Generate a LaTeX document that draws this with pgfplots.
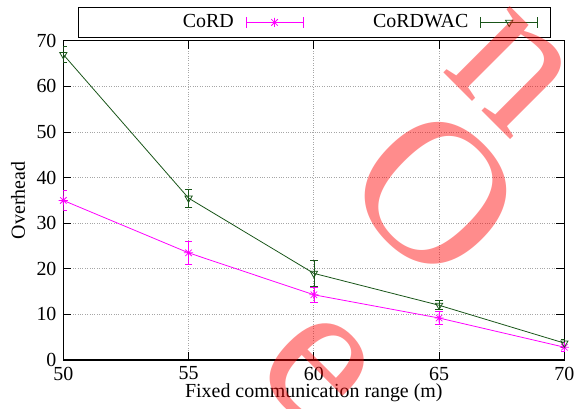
\documentclass[border=0pt]{standalone}
\usepackage{pgfplots}
\pgfplotsset{compat=1.18}
\usetikzlibrary{calc}
\usepackage{fontspec}
\setmainfont{Liberation Serif}

\definecolor{cordmag}{RGB}{255,0,255}
\definecolor{wacgreen}{RGB}{25,85,25}
\newcommand{\chartfont}{\fontsize{20}{23}\selectfont}

% gnuplot style star: + and x on top of each other
\pgfdeclareplotmark{plusx}{%
  \pgfpathmoveto{\pgfqpoint{-\pgfplotmarksize}{0pt}}%
  \pgfpathlineto{\pgfqpoint{\pgfplotmarksize}{0pt}}%
  \pgfpathmoveto{\pgfqpoint{0pt}{-\pgfplotmarksize}}%
  \pgfpathlineto{\pgfqpoint{0pt}{\pgfplotmarksize}}%
  \pgfpathmoveto{\pgfqpoint{-.7071\pgfplotmarksize}{-.7071\pgfplotmarksize}}%
  \pgfpathlineto{\pgfqpoint{.7071\pgfplotmarksize}{.7071\pgfplotmarksize}}%
  \pgfpathmoveto{\pgfqpoint{-.7071\pgfplotmarksize}{.7071\pgfplotmarksize}}%
  \pgfpathlineto{\pgfqpoint{.7071\pgfplotmarksize}{-.7071\pgfplotmarksize}}%
  \pgfusepathqstroke}

\begin{document}
\chartfont
\begin{tikzpicture}
\begin{axis}[
    name=ax,
    scale only axis,
    width=502.5pt, height=320pt,
    xmin=50, xmax=70, ymin=0, ymax=70,
    xtick={50,55,...,70},
    ytick={0,10,...,70},
    tick align=inside,
    major tick length=8pt,
    tick style={black, line width=0.8pt},
    axis line style={line width=1.2pt},
    grid=major,
    grid style={dotted, gray!70, line width=0.8pt},
    /pgf/number format/assume math mode=true,
    tick label style={font=\chartfont},
    label style={font=\chartfont},
    xlabel={Fixed communication range (m)},
    ylabel={Overhead},
    xlabel style={yshift=10pt},
    ylabel style={yshift=-2pt},
    legend columns=2,
    legend plot pos=right,
    legend style={
        at={(0.0299,1.0094)}, anchor=south west,
        draw=black, line width=0.8pt, font=\chartfont,
        inner xsep=12pt, inner ysep=7pt,
        column sep=12pt,
        /tikz/every even column/.append style={column sep=22pt},
        nodes={text width=143.5pt, align=right, inner sep=0pt},
    },
    legend image code/.code={
        \draw[#1, mark=none] (0pt,0pt) -- (57pt,0pt);
        \draw[#1, mark=none] (0pt,-5.5pt) -- (0pt,5.5pt);
        \draw[#1, mark=none] (57pt,-5.5pt) -- (57pt,5.5pt);
        \draw[mark repeat=2, mark phase=2, #1] plot coordinates {(0pt,0pt) (28.5pt,0pt) (57pt,0pt)};
    },
]
\addplot[color=cordmag, line width=0.8pt, mark=plusx, mark size=4.6pt,
    error bars/.cd, y dir=both, y explicit,
    error mark options={rotate=90, mark size=3.7pt, line width=0.8pt}]
coordinates {
    (50,35.0) +- (0,2.2)
    (55,23.5) +- (0,2.5)
    (60,14.3) +- (0,1.6)
    (65,9.2)  +- (0,1.4)
    (70,2.8)  +- (0,1.0)
};
\addlegendentry{CoRD}
\addplot[color=wacgreen, line width=0.8pt, mark=triangle, mark size=4.2pt,
    mark options={rotate=180},
    error bars/.cd, y dir=both, y explicit,
    error mark options={rotate=90, mark size=3.7pt, line width=0.8pt}]
coordinates {
    (50,67.0) +- (0,1.8)
    (55,35.5) +- (0,2.0)
    (60,19.0) +- (0,2.8)
    (65,12.0) +- (0,1.0)
    (70,3.7)  +- (0,0.9)
};
\addlegendentry{CoRDWAC}
\coordinate (wmE) at (axis cs:60.09,-2.0);
\coordinate (wmO) at (axis cs:64.87,36.5);
\coordinate (wmN) at (axis cs:67.85,63.2);
\end{axis}
% watermark letters
\begin{scope}[overlay, every node/.style={text=red, text opacity=0.45, rotate=-45,
    font=\fontsize{205}{205}\selectfont, inner sep=0pt}]
\node at (wmE) {e};
\node at (wmO) {O};
\node at (wmN) {n};
\end{scope}
\path ($(ax.south west)+(-63.5pt,-45pt)$) rectangle ($(ax.north east)+(15pt,41pt)$);
\end{tikzpicture}
\end{document}
